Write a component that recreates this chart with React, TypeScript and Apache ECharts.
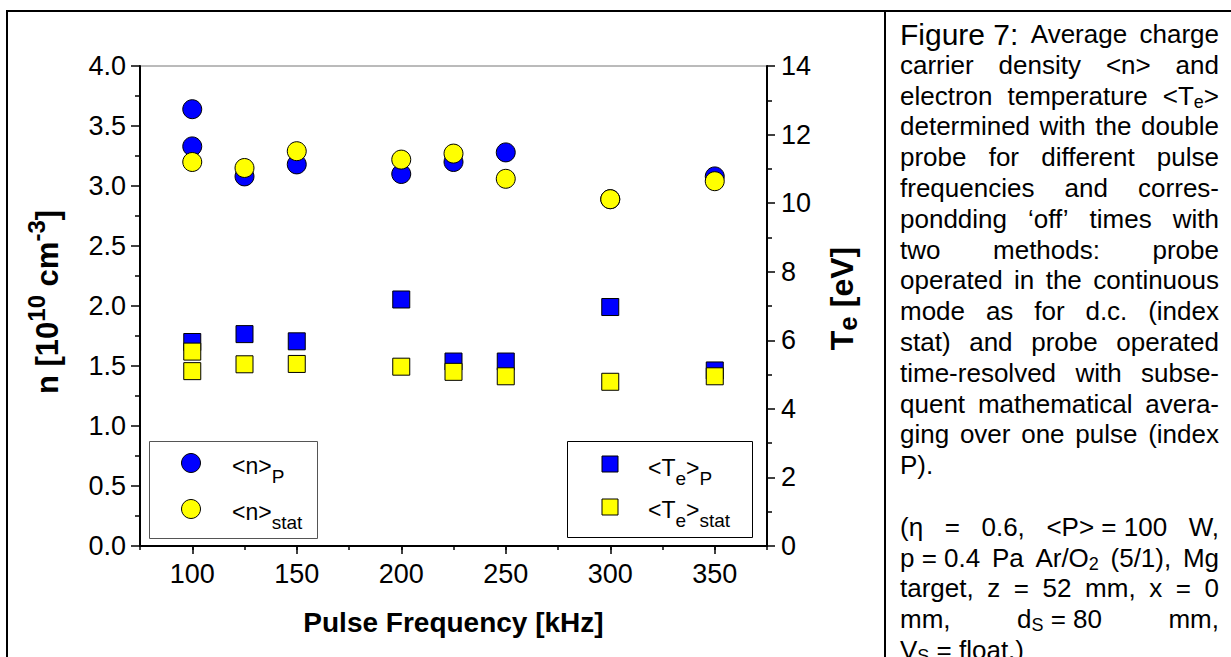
import React, { useEffect, useRef } from "react";
import * as echarts from "echarts";

// Pulse frequency [kHz] / value pairs read per method
const nPulsedFreq = [100, 100, 125, 150, 200, 225, 250, 300, 350];
const nPulsedValues = [3.64, 3.33, 3.08, 3.18, 3.1, 3.2, 3.28, 2.89, 3.08]; // 10^10 cm^-3
const nStatFreq = [100, 125, 150, 200, 225, 250, 300, 350];
const nStatValues = [3.2, 3.15, 3.29, 3.22, 3.27, 3.06, 2.89, 3.04];
const tePulsedFreq = [100, 125, 150, 200, 225, 250, 300, 350];
const tePulsedValues = [5.95, 6.18, 5.97, 7.19, 5.38, 5.38, 6.97, 5.12]; // eV
const teStatFreq = [100, 100, 125, 150, 200, 225, 250, 300, 350];
const teStatValues = [5.67, 5.1, 5.3, 5.31, 5.23, 5.08, 4.95, 4.79, 4.95];

const freqTicks = [100, 150, 200, 250, 300, 350];

// Caption, line by line. _{x} = subscript, !{x} = larger lead-in
const captionParagraphs: string[][][] = [
  [
    ["!{Figure\u00a07:}", "Average", "charge"],
    ["carrier", "density", "<n>", "and"],
    ["electron", "temperature", "<T_{e}>"],
    ["determined", "with", "the", "double"],
    ["probe", "for", "different", "pulse"],
    ["frequencies", "and", "corres-"],
    ["pondding", "\u2018off\u2019", "times", "with"],
    ["two", "methods:", "probe"],
    ["operated", "in", "the", "continuous"],
    ["mode", "as", "for", "d.c.", "(index"],
    ["stat)", "and", "probe", "operated"],
    ["time-resolved", "with", "subse-"],
    ["quent", "mathematical", "avera-"],
    ["ging", "over", "one", "pulse", "(index"],
    ["P)."],
  ],
  [
    ["(\u03b7", "=", "0.6,", "<P>\u00a0=\u00a0100", "W,"],
    ["p\u00a0=\u00a00.4", "Pa", "Ar/O_{2}", "(5/1),", "Mg"],
    ["target,", "z", "=", "52", "mm,", "x", "=", "0"],
    ["mm,", "d_{S}\u00a0=\u00a080", "mm,"],
    ["V_{S}\u00a0=\u00a0float.)"],
  ],
];

const FONT = "'Liberation Sans', Arial, sans-serif";
const CAP = { t: 26, s: 18, b: 30 };

const zip = (xs: number[], ys: number[]) => xs.map((x, i) => [x, ys[i]]);

type Seg = { kind: "t" | "s" | "b"; text: string };
function parseToken(tok: string): Seg[] {
  const out: Seg[] = [];
  const re = /([_!])\{([^}]*)\}/g;
  let last = 0;
  let m: RegExpExecArray | null;
  while ((m = re.exec(tok))) {
    if (m.index > last) out.push({ kind: "t", text: tok.slice(last, m.index) });
    out.push({ kind: m[1] === "_" ? "s" : "b", text: m[2] });
    last = re.lastIndex;
  }
  if (last < tok.length) out.push({ kind: "t", text: tok.slice(last) });
  return out;
}

const measureCtx = document.createElement("canvas").getContext("2d")!;
function textWidth(text: string, size: number, weight = "normal") {
  measureCtx.font = `${weight} ${size}px ${FONT}`;
  return measureCtx.measureText(text).width;
}

const captionRich = {
  t: { fontSize: CAP.t, fontFamily: FONT, fill: "#000", lineHeight: 30 },
  b: { fontSize: CAP.b, fontFamily: FONT, fill: "#000", lineHeight: 30 },
  s: { fontSize: CAP.s, fontFamily: FONT, fill: "#000", lineHeight: 14, verticalAlign: "bottom" },
};

function buildCaption(left: number, right: number, top: number, step: number) {
  const els: any[] = [];
  let row = 0;
  captionParagraphs.forEach((para, pi) => {
    if (pi > 0) row += 1;
    para.forEach((line, li) => {
      const segs = line.map(parseToken);
      const widths = segs.map((ss) => ss.reduce((a, s) => a + textWidth(s.text, CAP[s.kind]), 0));
      const total = widths.reduce((a, b) => a + b, 0);
      const justify = li < para.length - 1 && line.length > 1;
      const gap = justify ? (right - left - total) / (line.length - 1) : textWidth(" ", CAP.t);
      let x = left;
      const y = top + row * step;
      segs.forEach((ss, wi) => {
        els.push({
          type: "text",
          x,
          y,
          silent: true,
          style: {
            text: ss.map((s) => `{${s.kind}|${s.text}}`).join(""),
            rich: captionRich,
            align: "left",
            verticalAlign: "middle",
            fontFamily: FONT,
          },
        });
        x += widths[wi] + gap;
      });
      row += 1;
    });
  });
  return els;
}

const legendRich = {
  m: { fontSize: 23, fontFamily: FONT, fill: "#000", lineHeight: 40 },
  s: { fontSize: 19, fontFamily: FONT, fill: "#000", lineHeight: 16, verticalAlign: "bottom" },
};

function legendText(x: number, y: number, text: string) {
  return {
    type: "text",
    x,
    y,
    silent: true,
    style: { text, rich: legendRich, align: "left", verticalAlign: "middle", fontFamily: FONT },
  };
}

const BLUE = "#0000ff";
const YELLOW = "#ffff00";

function buildOption(): echarts.EChartsOption {
  const frame = { stroke: "#000", lineWidth: 2 };
  const graphic: any[] = [
    { type: "line", shape: { x1: 6, y1: 11, x2: 1231, y2: 11 }, style: frame, silent: true },
    { type: "line", shape: { x1: 7, y1: 10, x2: 7, y2: 657 }, style: frame, silent: true },
    { type: "line", shape: { x1: 885, y1: 10, x2: 885, y2: 657 }, style: frame, silent: true },
    // density legend
    { type: "rect", shape: { x: 149.5, y: 441.5, width: 168, height: 97 }, style: { fill: "#fff", stroke: "#555", lineWidth: 1 }, z: 10 },
    { type: "circle", shape: { cx: 191, cy: 463, r: 9.5 }, style: { fill: BLUE, stroke: "#000", lineWidth: 1 }, z: 11 },
    { type: "circle", shape: { cx: 191, cy: 509, r: 9.5 }, style: { fill: YELLOW, stroke: "#000", lineWidth: 1 }, z: 11 },
    { ...legendText(232, 466, "{m|<n>}{s|P}"), z: 11 },
    { ...legendText(232, 512, "{m|<n>}{s|stat}"), z: 11 },
    // temperature legend
    { type: "rect", shape: { x: 567.5, y: 441.5, width: 185, height: 96 }, style: { fill: "#fff", stroke: "#000", lineWidth: 1 }, z: 10 },
    { type: "rect", shape: { x: 602, y: 456, width: 16, height: 16 }, style: { fill: BLUE, stroke: "#000", lineWidth: 1 }, z: 11 },
    { type: "rect", shape: { x: 602, y: 499, width: 16, height: 16 }, style: { fill: YELLOW, stroke: "#000", lineWidth: 1 }, z: 11 },
    { ...legendText(648, 468, "{m|<T}{s|e}{m|>}{s|P}"), z: 11 },
    { ...legendText(648, 510, "{m|<T}{s|e}{m|>}{s|stat}"), z: 11 },
    ...buildCaption(900, 1219, 34, 30.8),
  ];

  const axisLine = { lineStyle: { color: "#000", width: 2 } };
  const tickStyle = { color: "#000", width: 1.5 };
  const labelStyle = { color: "#000", fontSize: 27, fontFamily: FONT };

  return {
    animation: false,
    backgroundColor: "#fff",
    grid: {
      left: 140,
      top: 66,
      right: 1231 - 767,
      bottom: 657 - 546,
      show: true,
      borderColor: "#777",
      borderWidth: 1,
      backgroundColor: "transparent",
    },
    xAxis: [
      {
        type: "value",
        position: "bottom",
        min: 75,
        max: 375,
        interval: 25,
        axisLine,
        axisTick: { show: true, length: 4, lineStyle: tickStyle },
        axisLabel: { ...labelStyle, margin: 14, customValues: freqTicks },
        splitLine: { show: false },
        name: "Pulse Frequency [kHz]",
        nameLocation: "middle",
        nameGap: 62,
        nameTextStyle: { color: "#000", fontSize: 28, fontWeight: "bold", fontFamily: FONT },
      },
      {
        type: "value",
        position: "bottom",
        min: 75,
        max: 375,
        interval: 25,
        axisLine: { show: false },
        axisTick: { show: true, length: 8, lineStyle: tickStyle, customValues: freqTicks },
        axisLabel: { show: false },
        splitLine: { show: false },
      },
    ],
    yAxis: [
      {
        type: "value",
        position: "left",
        min: 0,
        max: 4,
        interval: 0.5,
        axisLine: { show: true, ...axisLine },
        axisTick: { show: true, length: 9, lineStyle: tickStyle },
        minorTick: { show: true, splitNumber: 2, length: 5, lineStyle: tickStyle },
        axisLabel: { ...labelStyle, margin: 14, formatter: (v: number) => v.toFixed(1) },
        splitLine: { show: false },
        name: "{b|n [10}{sup|10}{b| cm}{sup|-3}{b|]}",
        nameLocation: "middle",
        nameRotate: 90,
        nameGap: 70,
        nameTextStyle: {
          padding: [0, 0, 0, 8],
          rich: {
            b: { fontSize: 31, fontWeight: "bold", fontFamily: FONT, color: "#000", lineHeight: 46 },
            sup: { fontSize: 24, fontWeight: "bold", fontFamily: FONT, color: "#000", lineHeight: 22, verticalAlign: "top" },
          },
        },
      },
      {
        type: "value",
        position: "right",
        min: 0,
        max: 14,
        interval: 2,
        axisLine: { show: true, ...axisLine },
        axisTick: { show: true, length: 8, lineStyle: tickStyle },
        minorTick: { show: true, splitNumber: 2, length: 5, lineStyle: tickStyle },
        axisLabel: { ...labelStyle, margin: 14 },
        splitLine: { show: false },
        name: "{b|T}{sub|e}{b| [eV]}",
        nameLocation: "middle",
        nameRotate: 90,
        nameGap: 56,
        nameTextStyle: {
          padding: [0, 0, 0, 15],
          rich: {
            b: { fontSize: 32, fontWeight: "bold", fontFamily: FONT, color: "#000", lineHeight: 38 },
            sub: { fontSize: 26, fontWeight: "bold", fontFamily: FONT, color: "#000", lineHeight: 22, verticalAlign: "bottom" },
          },
        },
      },
    ],
    series: [
      {
        name: "<n>P",
        type: "scatter",
        xAxisIndex: 0,
        yAxisIndex: 0,
        symbol: "circle",
        symbolSize: 19,
        itemStyle: { color: BLUE, borderColor: "#000", borderWidth: 1, opacity: 1 },
        data: zip(nPulsedFreq, nPulsedValues),
        z: 3,
      },
      {
        name: "<Te>P",
        type: "scatter",
        xAxisIndex: 0,
        yAxisIndex: 1,
        symbol: "rect",
        symbolSize: 17,
        itemStyle: { color: BLUE, borderColor: "#000", borderWidth: 1, opacity: 1 },
        data: zip(tePulsedFreq, tePulsedValues),
        z: 3,
      },
      {
        name: "<n>stat",
        type: "scatter",
        xAxisIndex: 0,
        yAxisIndex: 0,
        symbol: "circle",
        symbolSize: 19,
        itemStyle: { color: YELLOW, borderColor: "#000", borderWidth: 1, opacity: 1 },
        data: zip(nStatFreq, nStatValues),
        z: 4,
      },
      {
        name: "<Te>stat",
        type: "scatter",
        xAxisIndex: 0,
        yAxisIndex: 1,
        symbol: "rect",
        symbolSize: 17,
        itemStyle: { color: YELLOW, borderColor: "#000", borderWidth: 1, opacity: 1 },
        data: zip(teStatFreq, teStatValues),
        z: 4,
      },
    ],
    graphic,
  };
}

export default function App() {
  const ref = useRef<HTMLDivElement>(null);
  useEffect(() => {
    const chart = echarts.init(ref.current!, null, { renderer: "svg" });
    chart.setOption(buildOption());
    return () => chart.dispose();
  }, []);
  return (
    <div
      ref={ref}
      style={{ position: "absolute", left: 0, top: 0, width: 1231, height: 657, background: "#fff", overflow: "hidden" }}
    />
  );
}
